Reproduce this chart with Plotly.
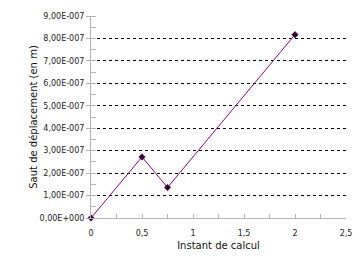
import plotly.graph_objects as go

x_vals = [0, 0.5, 0.75, 2]
y_vals = [0, 2.72e-7, 1.36e-7, 8.17e-7]
y_tick_vals = [i * 1e-7 for i in range(10)]
y_tick_text = ["0,00E+000"] + [f"{i},00E-007" for i in range(1, 10)]
x_tick_vals = [0, 0.5, 1, 1.5, 2, 2.5]
x_tick_text = ["0", "0,5", "1", "1,5", "2", "2,5"]

fig = go.Figure()
fig.add_trace(go.Scatter(
    x=x_vals, y=y_vals, mode="lines+markers",
    line=dict(color="#990099", width=1),
    marker=dict(symbol="diamond", size=5, color="#330033",
                line=dict(color="#330033", width=0.5)),
    showlegend=False, cliponaxis=False,
))

fig.update_layout(
    width=363, height=260,
    margin=dict(l=91, r=17, t=13, b=42),
    paper_bgcolor="white", plot_bgcolor="white",
    font=dict(family="DejaVu Sans", size=8, color="#222"),
    separators=",.",
)
fig.update_xaxes(
    range=[0, 2.5], tickvals=x_tick_vals, ticktext=x_tick_text, automargin=False,
    showgrid=False, zeroline=False, showline=True, linecolor="#b3b3b3", linewidth=1,
    ticks="inside", ticklen=4, tickcolor="#b3b3b3", ticklabelstandoff=7,
    minor=dict(dtick=0.25, ticks="inside", ticklen=4, tickcolor="#b3b3b3", showgrid=False),
    title=dict(text="Instant de calcul", font=dict(size=10, color="#111"), standoff=5),
    tickfont=dict(size=8),
)
fig.update_yaxes(
    range=[0, 9e-7], tickvals=y_tick_vals, ticktext=y_tick_text,
    showgrid=True, gridcolor="black", griddash="dot", gridwidth=1,
    zeroline=False, showline=True, linecolor="#b3b3b3", linewidth=1,
    ticks="outside", ticklen=4, tickcolor="#b3b3b3",
    minor=dict(dtick=0.5e-7, tick0=0, ticks="inside", ticklen=5, tickcolor="#b3b3b3", showgrid=False),
    title=dict(text="Saut de déplacement (en m)", font=dict(size=10, color="#111"), standoff=0),
    tickfont=dict(size=8),
)

fig.write_html("out.html")
